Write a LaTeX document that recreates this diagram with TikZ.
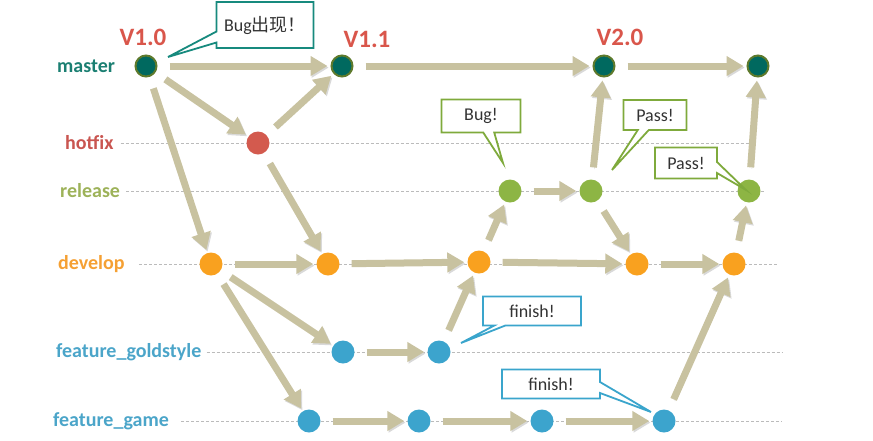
\documentclass[tikz,border=0pt]{standalone}
\usepackage{fontspec}
\setmainfont{Carlito}
\newfontfamily\cjkfont{Noto Sans CJK SC}
\usepackage{tikz}
\usetikzlibrary{calc, arrows.meta, positioning, shapes.callouts, backgrounds}
\definecolor{masterteal}{HTML}{00695F}
\definecolor{masterring}{HTML}{5E7A2C}
\definecolor{masterlabel}{HTML}{1B7F72}
\definecolor{hotfixred}{HTML}{D35A4E}
\definecolor{hotfixlabel}{HTML}{C95550}
\definecolor{releasegreen}{HTML}{8DB544}
\definecolor{releaselabel}{HTML}{9DB259}
\definecolor{developorange}{HTML}{F9A11F}
\definecolor{developlabel}{HTML}{F5A033}
\definecolor{featureblue}{HTML}{3CA4CD}
\definecolor{featurelabel}{HTML}{4BA5C9}
\definecolor{arrowkhaki}{HTML}{C8C2A0}
\definecolor{versionred}{HTML}{D9564B}
\definecolor{guidegray}{HTML}{BBBBBB}
\definecolor{textgray}{HTML}{333333}
\definecolor{calloutteal}{HTML}{178A7E}
\definecolor{calloutgreen}{HTML}{7FAA3C}
\definecolor{calloutblue}{HTML}{3AA5CC}
\tikzset{
  commit/.style={circle, minimum size=23pt, inner sep=0pt},
  mastercommit/.style={commit, fill=masterteal, draw=masterring,
    line width=2pt, minimum size=21pt},
  hotfixcommit/.style={commit, fill=hotfixred},
  releasecommit/.style={commit, fill=releasegreen},
  developcommit/.style={commit, fill=developorange},
  featurecommit/.style={commit, fill=featureblue},
  branchlabel/.style={anchor=west, inner sep=0pt,
    font=\fontsize{20}{24}\selectfont\bfseries},
  version/.style={font=\fontsize{25}{30}\selectfont\bfseries, text=versionred},
  myarrow/.style={-{Triangle[length=17pt,width=19pt]}, line width=7pt,
    color=arrowkhaki, shorten <=12pt, shorten >=3pt,
    preaction={draw=black!15, transform canvas={shift={(1.2pt,-1.6pt)}}}},
  guide/.style={densely dashed, guidegray, line width=0.6pt},
  note/.style={rectangle callout, line width=1.8pt, fill=white,
    text=textgray, font=\fontsize{18}{22}\selectfont,
    callout pointer width=11pt, inner sep=0pt},
}

\begin{document}
\begin{tikzpicture}[x=1pt, y=-1pt]
  \useasboundingbox (0,0) rectangle (873,440);

  % --- branch names ---
  \node[branchlabel, text=masterlabel]  (lmaster)  at (57,66)  {master};
  \node[branchlabel, text=hotfixlabel]  (lhotfix)  at (65,143) {hotfix};
  \node[branchlabel, text=releaselabel] (lrelease) at (60,191) {release};
  \node[branchlabel, text=developlabel] (ldevelop) at (58,264) {develop};
  \node[branchlabel, text=featurelabel] (lgold)    at (56,352) {feature\_goldstyle};
  \node[branchlabel, text=featurelabel] (lgame)    at (53,421) {feature\_game};

  % --- commits ---
  \node[mastercommit] (m1) at (146,66) {};
  \node[mastercommit] (m2) at (342,66) {};
  \node[mastercommit] (m3) at (604,66) {};
  \node[mastercommit] (m4) at (758,66) {};

  \node[hotfixcommit] (h1) at (258,143) {};

  \node[releasecommit] (r1) at (510,191) {};
  \node[releasecommit] (r2) at (591,191) {};
  \node[releasecommit] (r3) at (749,191) {};

  \node[developcommit] (d1) at (211,264) {};
  \node[developcommit] (d2) at (328,264) {};
  \node[developcommit] (d3) at (479,262) {};
  \node[developcommit] (d4) at (637,264) {};
  \node[developcommit] (d5) at (734,264) {};

  \node[featurecommit] (g1) at (343,352) {};
  \node[featurecommit] (g2) at (439,352) {};

  \node[featurecommit] (f1) at (309,421) {};
  \node[featurecommit] (f2) at (419,421) {};
  \node[featurecommit] (f3) at (542,421) {};
  \node[featurecommit] (f4) at (664,421) {};

  % --- versions ---
  \node[version, above=5pt of m1, xshift=-3pt] (v10) {V1.0};
  \node[version, above=3pt of m2, xshift=25pt] (v11) {V1.1};
  \node[version, above=5pt of m3, xshift=16pt] (v20) {V2.0};

  % --- dotted guides ---
  \coordinate (ehotfix)  at (752,143);
  \coordinate (erelease) at (765,191);
  \coordinate (edevelop) at (777,264);
  \coordinate (egold)    at (783,352);
  \coordinate (egame)    at (782,421);
  \begin{scope}[on background layer]
    \draw[guide, shorten <=7pt]  (lhotfix.east)  -- (ehotfix);
    \draw[guide, shorten <=6pt]  (lrelease.east) -- (erelease);
    \draw[guide, shorten <=14pt] (ldevelop.east) -- (edevelop);
    \draw[guide, shorten <=5pt]  (lgold.east)    -- (egold);
    \draw[guide, shorten <=12pt] (lgame.east)    -- (egame);
  \end{scope}

  % --- merges and commits ---
  \draw[myarrow] (m1) -- (m2);
  \draw[myarrow] (m2) -- (m3);
  \draw[myarrow] (m3) -- (m4);
  \draw[myarrow] (m1) -- (h1);
  \draw[myarrow] (h1) -- (m2);
  \draw[myarrow] (m1) -- (d1);
  \draw[myarrow] (h1) -- (d2);
  \draw[myarrow] (d1) -- (d2);
  \draw[myarrow] (d2) -- (d3);
  \draw[myarrow] (d3) -- (d4);
  \draw[myarrow] (d4) -- (d5);
  \draw[myarrow] (d1) -- (g1);
  \draw[myarrow] (d1) -- (f1);
  \draw[myarrow] (g1) -- (g2);
  \draw[myarrow] (g2) -- (d3);
  \draw[myarrow] (f1) -- (f2);
  \draw[myarrow] (f2) -- (f3);
  \draw[myarrow] (f3) -- (f4);
  \draw[myarrow] (f4) -- (d5);
  \draw[myarrow] (d3) -- (r1);
  \draw[myarrow] (r1) -- (r2);
  \draw[myarrow] (r2) -- (m3);
  \draw[myarrow] (r2) -- (d4);
  \draw[myarrow] (d5) -- (r3);
  \draw[myarrow] (r3) -- (m4);

  % --- callouts ---
  \node[note, draw=calloutteal, minimum width=97pt, minimum height=46pt,
        callout absolute pointer={($(m1)+(22,-9)$)}] (bugmaster)
        at (265,25) {Bug{\cjkfont 出现！}};
  \node[note, draw=calloutgreen, minimum width=79pt, minimum height=33pt,
        callout absolute pointer={($(r1)+(-7,-28)$)}] (bugrelease)
        at (481,116) {Bug!};
  \node[note, draw=calloutgreen, minimum width=63pt, minimum height=30pt,
        callout absolute pointer={($(r2)+(21,-21)$)}] (passone)
        at (655,115) {Pass!};
  \node[note, draw=calloutgreen, minimum width=62pt, minimum height=31pt,
        callout absolute pointer={($(r3)+(-3,-1)$)}] (passtwo)
        at (686,163) {Pass!};
  \node[note, draw=calloutblue, minimum width=98pt, minimum height=29pt,
        callout absolute pointer={($(g2)+(22,-9)$)}] (finishgold)
        at (532,311) {finish!};
  \node[note, draw=calloutblue, minimum width=98pt, minimum height=29pt,
        callout absolute pointer={($(f4)+(-13,-9)$)}] (finishgame)
        at (551,384) {finish!};

\end{tikzpicture}
\end{document}
